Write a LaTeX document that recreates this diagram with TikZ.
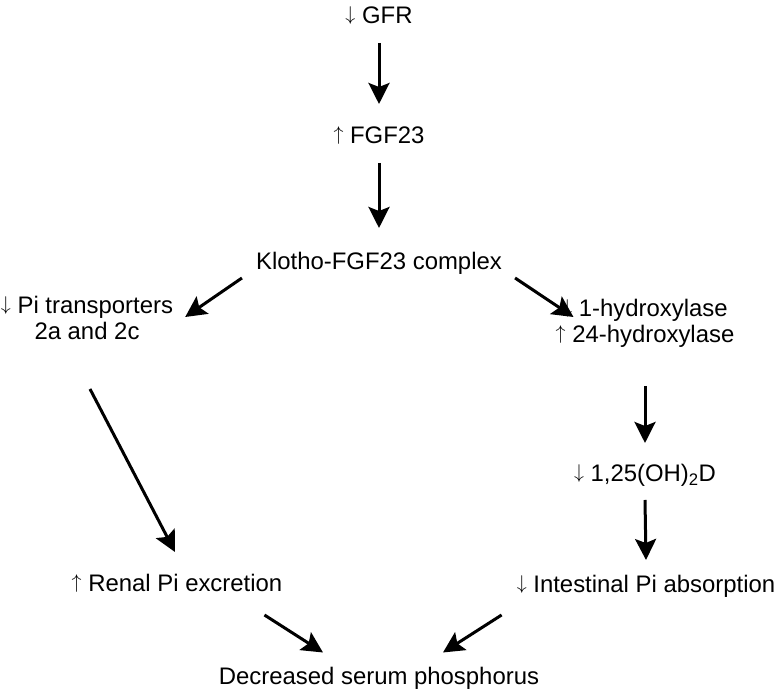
\documentclass[tikz,border=0pt]{standalone}
\usepackage{fontspec}
\setmainfont{Liberation Sans}
\usetikzlibrary{arrows.meta}
\tikzstyle{term} = [inner sep=0pt, anchor=base, align=center,
    font=\fontsize{23.9}{26}\selectfont]
\tikzstyle{arr} = [-{Stealth[length=21pt, width=21pt, inset=4pt]}, line width=3pt]
\newcommand{\dn}{\raisebox{3.8pt}{\scalebox{0.8}{$\downarrow$}}}
\newcommand{\up}{\raisebox{3.8pt}{\scalebox{0.8}{$\uparrow$}}}

\begin{document}
\begin{tikzpicture}[x=1pt, y=1pt]
    \useasboundingbox (0,0) rectangle (777,693);
    % top chain
    \node [term] (gfr) at (379,669) {\dn{} GFR};
    \node [term] (fgf) at (379,549) {\up{} FGF23};
    \node [term] (klotho) at (379,423) {Klotho-FGF23 complex};
    % two branches
    \node [term] (pit) at (87,353) {\dn{} Pi transporters\\2a and 2c};
    \node [term] (hyd) at (645,350) {\dn{} 1-hydroxylase\\\up{} 24-hydroxylase};
    \node [term] (vitd) at (645,211) {\dn{} 1,25(OH)\textsubscript{2}D};
    \node [term] (renal) at (177,101) {\up{} Renal Pi excretion};
    \node [term] (intest) at (646,100) {\dn{} Intestinal Pi absorption};
    \node [term] (serum) at (379,8) {Decreased serum phosphorus};

    \draw [arr] ([yshift=-19pt]gfr.base) -- ([yshift=40pt]fgf.base);
    \draw [arr] ([yshift=-19pt]fgf.base) -- ([yshift=42pt]klotho.base);
    \draw [arr] ([xshift=-14pt,yshift=-8pt]klotho.base west) -- ([xshift=12pt,yshift=23pt]pit.base east);
    \draw [arr] ([xshift=13pt,yshift=-8pt]klotho.base east) -- ([xshift=18pt,yshift=26pt]hyd.base west);
    \draw [arr] ([yshift=-43pt]hyd.base) -- ([yshift=39pt]vitd.base);
    \draw [arr] ([yshift=-18pt]vitd.base) -- ([yshift=33pt]intest.base);
    \draw [arr] ([xshift=3pt,yshift=-49pt]pit.base) -- ([xshift=-2pt,yshift=40pt]renal.base);
    \draw [arr] ([xshift=-18pt,yshift=-23pt]renal.base east) -- ([xshift=-56pt,yshift=15pt]serum.north);
    \draw [arr] ([xshift=-15pt,yshift=-22pt]intest.base west) -- ([xshift=64pt,yshift=15pt]serum.north);
\end{tikzpicture}
\end{document}
